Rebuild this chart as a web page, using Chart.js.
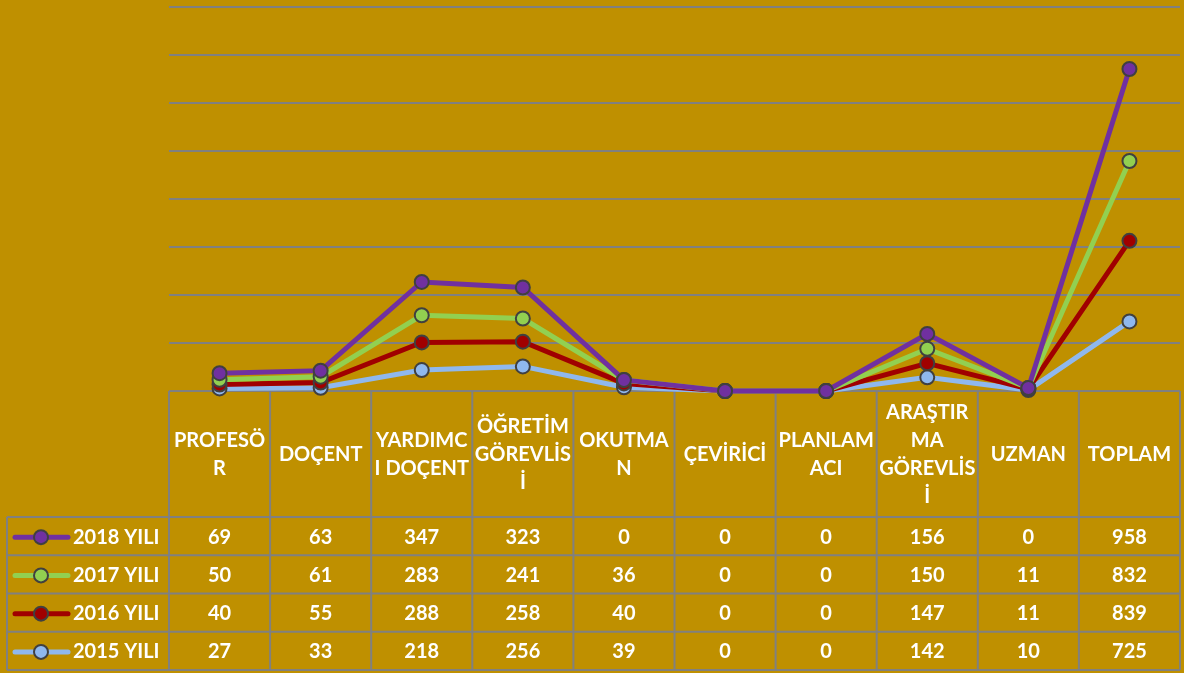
<!DOCTYPE html>
<html>
<head>
<meta charset="utf-8">
<script src="https://cdn.jsdelivr.net/npm/chart.js@4.4.1/dist/chart.umd.min.js"></script>
<style>
    html, body { margin: 0; padding: 0; background: #bf9000; }
    #wrap { width: 1184px; height: 673px; }
</style>
</head>
<body>
<div id="wrap"><canvas id="myChart" width="1184" height="673"></canvas></div>
<script>
'use strict';

// categories, already wrapped the way the table shows them
const categories = [
    ['PROFESÖ', 'R'],
    ['DOÇENT'],
    ['YARDIMC', 'I DOÇENT'],
    ['ÖĞRETİM', 'GÖREVLİS', 'İ'],
    ['OKUTMA', 'N'],
    ['ÇEVİRİCİ'],
    ['PLANLAM', 'ACI'],
    ['ARAŞTIR', 'MA', 'GÖREVLİS', 'İ'],
    ['UZMAN'],
    ['TOPLAM'],
];

const years = ['2015 YILI', '2016 YILI', '2017 YILI', '2018 YILI'];

const values2015 = [27, 33, 218, 256, 39, 0, 0, 142, 10, 725];
const values2016 = [40, 55, 288, 258, 40, 0, 0, 147, 11, 839];
const values2017 = [50, 61, 283, 241, 36, 0, 0, 150, 11, 832];
const values2018 = [69, 63, 347, 323, 0, 0, 0, 156, 0, 958];

const lineColors = ['#8fb8ee', '#a00000', '#92d050', '#7030a0'];

const seriesValues = [values2015, values2016, values2017, values2018];

const FONT = 'bold 20px Lato, "Open Sans", sans-serif';
const GRID = '#808080';

// data table under the plot, drawn before the lines so markers sit on top
const tablePlugin = {
    id: 'dataTable',
    beforeDatasetsDraw(chart) {
        const { ctx, chartArea, scales } = chart;
        const x = scales.x;
        const half = (x.getPixelForValue(1) - x.getPixelForValue(0)) / 2;
        const right = chartArea.right;
        const top = chartArea.bottom;
        const headTop = 517;
        const rowH = 38.25;
        const legendLeft = 7;
        const bottom = headTop + rowH * 4;

        ctx.save();
        ctx.strokeStyle = GRID;
        ctx.lineWidth = 2;
        ctx.beginPath();
        // verticals
        for (let i = 0; i <= categories.length; i++) {
            const px = i < categories.length ? x.getPixelForValue(i) - half : right;
            ctx.moveTo(px, top);
            ctx.lineTo(px, bottom);
        }
        ctx.moveTo(legendLeft, headTop);
        ctx.lineTo(legendLeft, bottom);
        // horizontals
        for (let r = 0; r <= 4; r++) {
            const py = headTop + rowH * r;
            ctx.moveTo(legendLeft, py);
            ctx.lineTo(right, py);
        }
        ctx.stroke();

        ctx.fillStyle = '#ffffff';
        ctx.font = FONT;
        ctx.textAlign = 'center';
        ctx.textBaseline = 'middle';
        const lineH = 28;
        const headMid = (top + headTop) / 2 + 1;
        categories.forEach((lines, i) => {
            const cx = x.getPixelForValue(i);
            const y0 = headMid - (lines.length - 1) * lineH / 2;
            lines.forEach((t, k) => ctx.fillText(t, cx, y0 + k * lineH));
        });

        // rows: 2018 first, 2015 last
        for (let r = 0; r < 4; r++) {
            const s = 3 - r;
            const cy = headTop + rowH * r + rowH / 2 + 1;
            ctx.fillStyle = '#ffffff';
            ctx.textAlign = 'center';
            seriesValues[s].forEach((v, i) => ctx.fillText(String(v), x.getPixelForValue(i), cy));

            ctx.strokeStyle = lineColors[s];
            ctx.lineWidth = 5;
            ctx.lineCap = 'round';
            ctx.beginPath();
            ctx.moveTo(15, cy);
            ctx.lineTo(68, cy);
            ctx.stroke();
            ctx.beginPath();
            ctx.arc(41, cy, 7, 0, Math.PI * 2);
            ctx.fillStyle = lineColors[s];
            ctx.fill();
            ctx.lineWidth = 2;
            ctx.strokeStyle = '#404040';
            ctx.stroke();

            ctx.fillStyle = '#ffffff';
            ctx.textAlign = 'left';
            ctx.fillText(years[s], 73, cy);
        }
        ctx.restore();

        // draw the series bottom-up so the top of the stack ends on top
        chart.getSortedVisibleDatasetMetas()
            .slice()
            .sort((a, b) => a.index - b.index)
            .forEach((m) => m.controller.draw());
        return false;
    },
};

const datasets = years.map((label, i) => ({
    label: label,
    data: seriesValues[i],
    borderColor: lineColors[i],
    backgroundColor: lineColors[i],
    borderWidth: 5,
    pointRadius: 7,
    pointBorderWidth: 2,
    pointBorderColor: '#404040',
    pointBackgroundColor: lineColors[i],
    tension: 0,
    fill: false,
}));

const myChart = new Chart(document.getElementById('myChart'), {
    type: 'line',
    data: { labels: categories, datasets: datasets },
    options: {
        responsive: false,
        animation: false,
        layout: { autoPadding: false, padding: { left: 169, right: 4, top: 7, bottom: 282 } },
        plugins: {
            legend: { display: false },
            tooltip: { enabled: false },
        },
        scales: {
            x: { display: false, offset: true },
            y: {
                stacked: true,
                min: 0,
                max: 4000,
                ticks: { display: false, stepSize: 500 },
                grid: { color: GRID, lineWidth: 2, drawTicks: false },
                border: { display: false },
            },
        },
    },
    plugins: [tablePlugin],
});
</script>
</body>
</html>
